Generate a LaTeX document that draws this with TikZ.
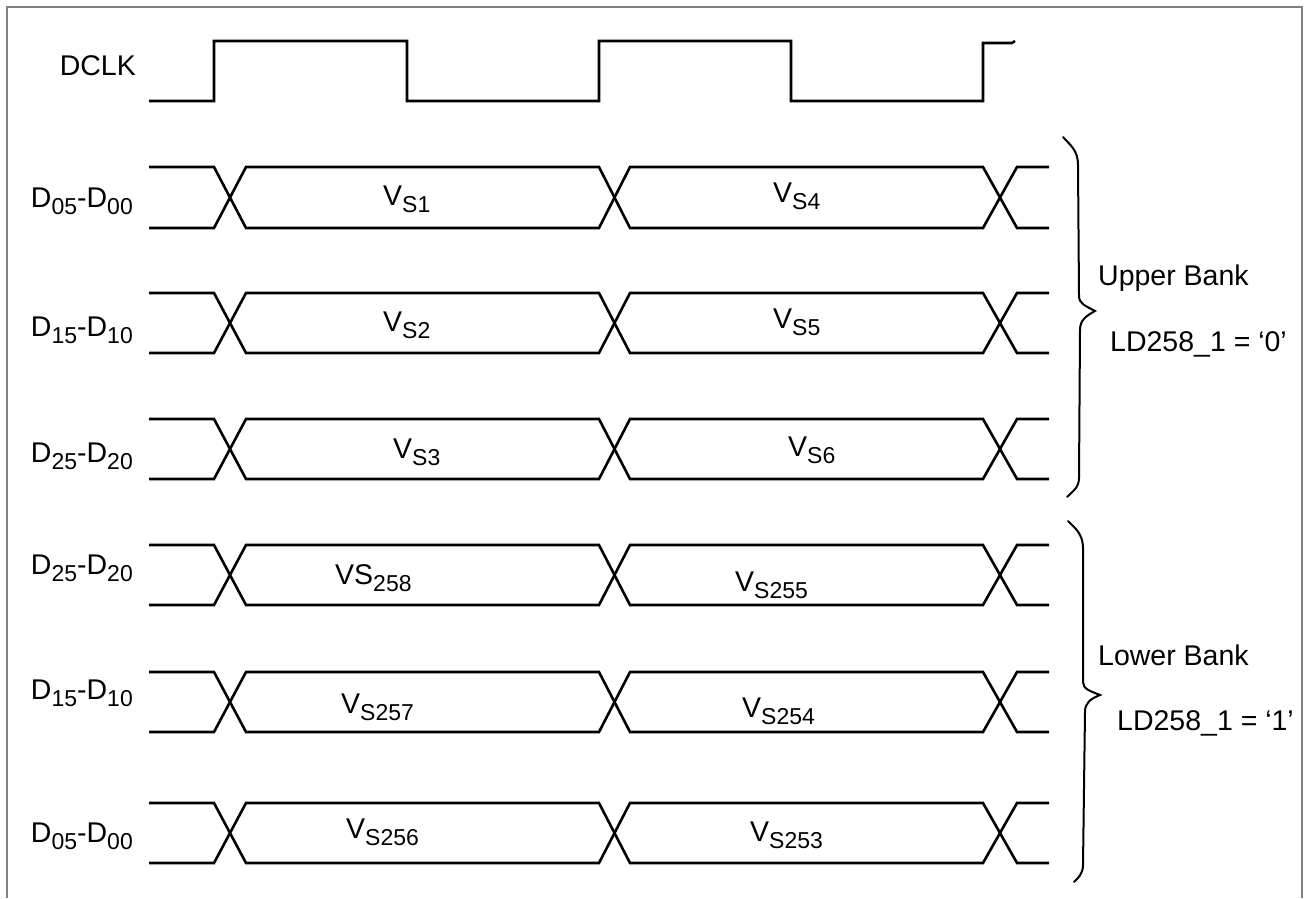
\documentclass[tikz,border=0pt]{standalone}
\usepackage{fontspec}
\setmainfont{Liberation Sans}
\newcommand\lsub[1]{\raisebox{-7pt}{\fontsize{23}{24}\selectfont #1}}
\tikzset{
  sig/.style={line width=2.6pt, line join=miter},
  brace/.style={line width=2pt, line cap=round},
  frame/.style={line width=1.6pt, draw=black!50},
  lbl/.style={inner sep=0pt, font=\fontsize{28.5}{30}\selectfont},
}
\begin{document}
\begin{tikzpicture}[x=1pt,y=-1pt]
\useasboundingbox (0,0) rectangle (1310,898);
% frame (open at bottom)
\draw[frame] (7,898) -- (7,7) -- (1302,7) -- (1302,898);
% clock
\draw[sig] (149,101) -- (214,101) -- (214,41) -- (407,41) -- (407,101) -- (599,101) -- (599,41) -- (791,41) -- (791,101) -- (983,101) -- (983,43) -- (1012,43) -- (1015,41);
\node[lbl, anchor=base east] (dclk) at (136,75) {DCLK};
% data rows
\foreach \yt/\yb in {167/228, 293/353, 419/479, 545/605, 672/732, 803/863}{
  \draw[sig] (149,\yt) -- (214,\yt) -- (246,\yb) -- (599,\yb) -- (630,\yt) -- (983,\yt) -- (1017,\yb) -- (1049,\yb);
  \draw[sig] (149,\yb) -- (214,\yb) -- (246,\yt) -- (599,\yt) -- (630,\yb) -- (983,\yb) -- (1017,\yt) -- (1049,\yt);
}
% row labels
\node[lbl, anchor=base east] (r1) at (133,207) {D\lsub{05}-D\lsub{00}};
\node[lbl, anchor=base east] (r2) at (133,336) {D\lsub{15}-D\lsub{10}};
\node[lbl, anchor=base east] (r3) at (133,462) {D\lsub{25}-D\lsub{20}};
\node[lbl, anchor=base east] (r4) at (133,574) {D\lsub{25}-D\lsub{20}};
\node[lbl, anchor=base east] (r5) at (133,699) {D\lsub{15}-D\lsub{10}};
\node[lbl, anchor=base east] (r6) at (133,842) {D\lsub{05}-D\lsub{00}};
% value labels
\node[lbl, anchor=base west] (v1) at (383,205) {V\lsub{S1}};
\node[lbl, anchor=base west] (v4) at (773,202) {V\lsub{S4}};
\node[lbl, anchor=base west] (v2) at (383,331) {V\lsub{S2}};
\node[lbl, anchor=base west] (v5) at (773,328) {V\lsub{S5}};
\node[lbl, anchor=base west] (v3) at (393,458) {V\lsub{S3}};
\node[lbl, anchor=base west] (v6) at (788,456) {V\lsub{S6}};
\node[lbl, anchor=base west] (v258) at (335,584) {VS\lsub{258}};
\node[lbl, anchor=base west] (v255) at (735,591) {V\lsub{S255}};
\node[lbl, anchor=base west] (v257) at (341,713) {V\lsub{S257}};
\node[lbl, anchor=base west] (v254) at (742,717) {V\lsub{S254}};
\node[lbl, anchor=base west] (v256) at (346,838) {V\lsub{S256}};
\node[lbl, anchor=base west] (v253) at (750,841) {V\lsub{S253}};
% braces
\draw[brace] (1063,137) .. controls (1070,145) and (1078,150) .. (1078,165) -- (1079,296)
  .. controls (1079,304) and (1086,306) .. (1095,311)
  .. controls (1086,316) and (1080,320) .. (1080,330) -- (1079,478)
  .. controls (1079,488) and (1072,492) .. (1067,497);
\draw[brace] (1068,521) .. controls (1075,528) and (1083,534) .. (1083,548) -- (1083,682)
  .. controls (1083,689) and (1090,691) .. (1100,695)
  .. controls (1090,699) and (1085,703) .. (1085,712) -- (1083,865)
  .. controls (1083,874) and (1078,878) .. (1074,882);
% bank labels
\node[lbl, anchor=base west] (ub) at (1098,285) {Upper Bank};
\node[lbl, anchor=base west] (ul) at (1110,351) {LD258\_1 = ‘0’};
\node[lbl, anchor=base west] (lb) at (1098,665) {Lower Bank};
\node[lbl, anchor=base west] (ll) at (1117,730) {LD258\_1 = ‘1’};
\end{tikzpicture}
\end{document}
